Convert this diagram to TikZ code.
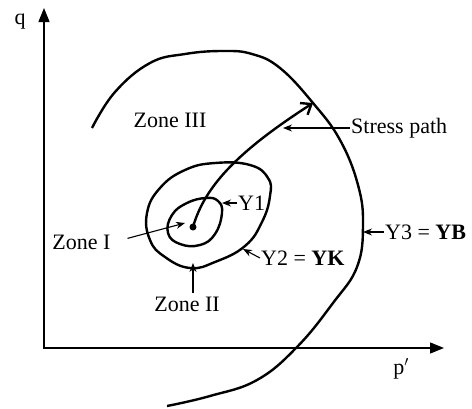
\documentclass[tikz,border=0pt]{standalone}
\usepackage{fontspec}
\setmainfont{Liberation Serif}
\usetikzlibrary{arrows.meta,positioning}

\begin{document}
\begin{tikzpicture}[
    x=1pt, y=-1pt,
    font=\fontsize{22}{25}\selectfont,
    axis/.style={line width=1.4pt, {Triangle[length=14pt,width=11pt]}-{Triangle[length=14pt,width=11pt]}},
    yield/.style={line width=2.4pt, line join=round},
    pointer/.style={line width=1.1pt, -{Stealth[length=9pt,width=7pt]}},
    lbl/.style={inner sep=1pt, anchor=west}
]
    \useasboundingbox (0,0) rectangle (472,408);

    % axes
    \coordinate (O) at (44,348);
    \coordinate (qtip) at (44,8);
    \coordinate (ptip) at (444,348);
    \draw[axis] (qtip) -- (O) -- (ptip);
    \node (qlabel) at (20,22) {q};
    \node (plabel) at (401,369) {p$'$};

    % yield curves
    \draw[yield] plot[smooth cycle, tension=0.75] coordinates {(187,203) (206,198) (218,201) (222,213) (215,234) (200,245) (180,244) (168,233) (172,215)};
    \draw[yield] plot[smooth cycle, tension=0.75] coordinates {(147,213) (160,188) (185,170) (215,163) (250,165) (268,178) (270,196) (262,222) (245,246) (215,262) (190,268) (165,257) (150,240)};
    \draw[yield] plot[smooth, tension=0.7] coordinates {(92,128) (115,92) (150,63) (185,54) (223,51) (252,54) (280,68) (313,103) (340,140) (358,185) (363,225) (357,267) (333,303) (297,347) (257,380) (210,396) (167,406)};

    % stress path
    \node[circle, fill, inner sep=0pt, minimum size=7pt] (dot) at (193,227) {};
    \coordinate (sptip) at (313,103);
    \draw[yield, -{Straight Barb[length=9pt,width=14pt]}] (dot.center) .. controls (205,185) and (240,150) .. (sptip);

    % labels
    \node (zone3) at (170,120) {Zone III};
    \node[anchor=east] (zone1) at (114,242) {Zone I};
    \node (zone2) at (187,304) {Zone II};
    \node[lbl] (yone) at (237,203) {Y1};
    \node[lbl] (ytwo) at (260,258) {Y2 = \textbf{YK}};
    \node[lbl] (ythree) at (384,232) {Y3 = \textbf{YB}};
    \node[lbl] (spath) at (350,128) {Stress path};

    \coordinate (zonetip) at (185,223);
    \coordinate (zonetwotip) at (193,263);
    \coordinate (yonetip) at (222,203);
    \coordinate (ytwotip) at (243,249);
    \coordinate (ythreetip) at (363,232);
    \coordinate (sptarget) at (283,128);

    \draw[pointer, shorten <=14pt] (zone1.east) -- (zonetip);
    \draw[pointer] (zone2.north -| zonetwotip) -- (zonetwotip);
    \draw[pointer] (yone.west) -- (yonetip);
    \draw[pointer] (ytwo.west) -- (ytwotip);
    \draw[pointer] (ythree.west) -- (ythreetip);
    \draw[pointer] (spath.west) -- (sptarget);
\end{tikzpicture}
\end{document}
